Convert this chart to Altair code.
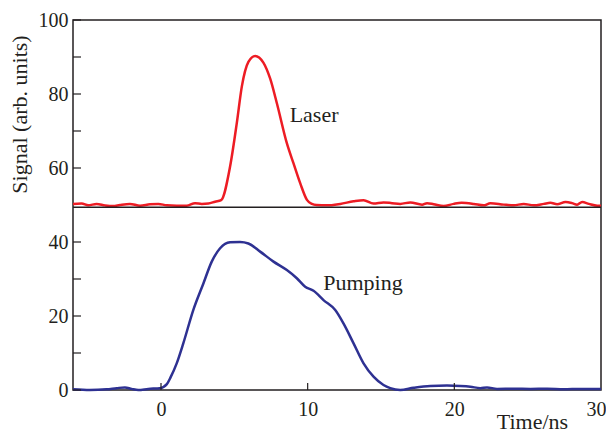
import altair as alt
import pandas as pd

# ---- data ----
laser_t = [-6.0, -5.41, -4.96, -4.39, -3.82, -3.26, -2.80, -2.12, -1.43, -0.75, -0.18, 0.39,
           1.07, 1.75, 2.32, 2.78, 3.23, 3.69, 4.1, 4.71, 5.17, 5.51, 5.96, 6.42, 6.98, 7.44,
           7.90, 8.58, 9.03, 9.49, 9.95, 10.29, 10.6, 11.31, 12.22, 13.13, 13.81, 14.49, 15.17,
           15.75, 16.31, 17.0, 17.80, 18.14, 18.59, 19.27, 19.95, 20.5, 21.33, 22.0, 22.46,
           23.37, 24.05, 24.73, 25.41, 26.10, 26.55, 27.01, 27.58, 28.03, 28.37, 28.72, 29.17,
           29.74, 30.0]
laser_v = [50.3, 50.4, 49.9, 50.3, 49.9, 49.7, 50.0, 50.3, 49.8, 50.2, 50.3, 49.9,
           49.8, 49.8, 50.5, 50.3, 50.4, 50.9, 51.3, 60.4, 72.2, 82.0, 88.7, 90.3, 88.5, 84.2,
           77.5, 66.7, 61.3, 55.9, 51.4, 50.3, 50.0, 49.9, 50.3, 51.0, 51.3, 50.4, 50.7,
           50.5, 50.3, 50.7, 50.1, 50.5, 50.2, 49.7, 50.3, 50.6, 50.3, 49.9, 50.5,
           50.1, 49.9, 50.3, 49.9, 50.3, 50.6, 50.2, 50.8, 50.5, 50.1, 50.8, 50.3,
           49.8, 49.8]

pump_t = [-6.0, -4.85, -3.71, -3.02, -2.46, -2.0, -1.55, -0.87, -0.07, 0.4, 0.65, 1.07,
          1.52, 2.20, 2.89, 3.46, 4.03, 4.71, 5.39, 5.96, 6.76, 7.67, 8.58, 9.26, 9.83,
          10.40, 11.08, 11.88, 12.44, 13.13, 13.81, 14.49, 15.17, 15.63, 16.31, 17.22,
          18.36, 19.50, 20.41, 21.09, 21.77, 22.23, 22.91, 24.05, 25.19, 26.33, 27.46,
          28.60, 30.0]
pump_v = [0.2, 0.0, 0.2, 0.5, 0.7, 0.3, 0.0, 0.3, 0.5, 1.6, 3.4, 7.2,
          12.6, 21.6, 28.8, 34.7, 38.3, 39.9, 40.0, 39.6, 37.4, 34.7, 32.4, 30.2, 27.9,
          26.8, 24.3, 21.6, 18.0, 12.6, 7.2, 3.6, 1.35, 0.5, 0.0, 0.6,
          1.1, 1.2, 1.1, 0.9, 0.5, 0.7, 0.3, 0.35, 0.3, 0.35, 0.2,
          0.3, 0.3]

label_text = ["Laser", "Pumping"]
label_t = [8.77, 11.06]
label_v = [74.3, 28.9]

divider_v = [49.4]
y_tick_values = [0, 10, 20, 30, 40, 60, 70, 80, 90, 100]
x_tick_values = [0, 10, 20]
y_label_values = [0, 20, 40, 60, 80, 100]
x_label_values = [0, 10, 20, 30]

RED = "#ed1c24"
BLUE = "#2e3192"
INK = "#231f20"
FONT = "Liberation Serif, Times New Roman, serif"

laser = pd.DataFrame({"t": laser_t, "v": laser_v})
pump = pd.DataFrame({"t": pump_t, "v": pump_v})
labels = pd.DataFrame({"text": label_text, "t": label_t, "v": label_v})
div = pd.DataFrame({"v": divider_v})
yt = pd.DataFrame({"v": y_tick_values})
xt = pd.DataFrame({"t": x_tick_values})

xscale = alt.Scale(domain=[-6, 30], nice=False, zero=False)
yscale = alt.Scale(domain=[0, 100], nice=False)

xaxis = alt.Axis(values=x_label_values, title="Time/ns", grid=False, domain=False,
                 ticks=False, tickSize=0, labelFlush=True, labelFlushOffset=5, labelPadding=9,
                 labelFont=FONT, labelFontSize=20, labelColor=INK,
                 titleFont=FONT, titleFontSize=22, titleFontWeight="normal", titleColor=INK,
                 titleX=459, titleY=38, titleAlign="center", titleBaseline="alphabetic",
                 labelOverlap=False)
yaxis = alt.Axis(values=y_label_values, title="Signal (arb. units)", grid=False, domain=False,
                 ticks=False, tickSize=0, labelPadding=5,
                 labelFont=FONT, labelFontSize=20, labelColor=INK,
                 titleFont=FONT, titleFontSize=22, titleFontWeight="normal", titleColor=INK,
                 titleX=-53.5, titleY=94, titleAlign="center", titleBaseline="middle",
                 titleAngle=-90, labelOverlap=False)

X = alt.X("t:Q", scale=xscale, axis=xaxis, title="Time/ns")
Y = alt.Y("v:Q", scale=yscale, axis=yaxis, title="Signal (arb. units)")

laser_line = alt.Chart(laser).mark_line(color=RED, strokeWidth=2.5, interpolate="monotone",
                                        strokeJoin="round").encode(
    x=X, y=Y,
)
pump_line = alt.Chart(pump).mark_line(color=BLUE, strokeWidth=2.5, interpolate="monotone").encode(
    x=X, y=Y,
)
divider = alt.Chart(div).mark_rule(color=INK, strokeWidth=1.5).encode(
    y=Y,
)
yticks = alt.Chart(yt).mark_rule(color=INK, strokeWidth=1.2).encode(
    y=Y, x=alt.value(0), x2=alt.value(8),
)
xticks = alt.Chart(xt).mark_rule(color=INK, strokeWidth=1.2).encode(
    x=X, y=alt.value(370), y2=alt.value(363),
)
texts = alt.Chart(labels).mark_text(font=FONT, fontSize=22, color=INK, align="left",
                                    baseline="middle").encode(
    x=X, y=Y, text="text:N",
)

chart = alt.layer(laser_line, pump_line, divider, yticks, xticks, texts).properties(
    width=528, height=370,
    autosize=alt.AutoSizeParams(type="none"),
    padding={"left": 65, "top": 12, "right": 5, "bottom": 43},
    background="white",
).configure_view(stroke=INK, strokeWidth=1.5)

chart.save("out.html", embed_options={"renderer": "svg", "actions": False})
